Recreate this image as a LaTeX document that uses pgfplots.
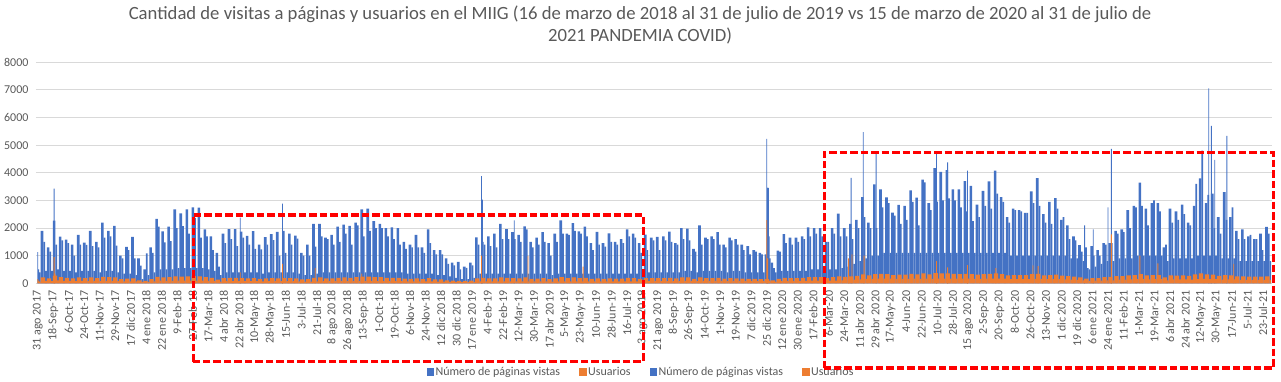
\documentclass[border=0pt]{standalone}
\usepackage{pgfplots}
\pgfplotsset{compat=1.18}
\usepackage{pgfplotstable}
\usepackage{fontspec}
\setmainfont{Carlito}
\definecolor{cblue}{HTML}{4472C4}
\definecolor{corange}{HTML}{ED7D31}
\definecolor{cgrid}{HTML}{D9D9D9}
\definecolor{ctext}{HTML}{595959}

% weekly data: k = week index (Monday = day 4+7k, day 0 = 31 ago 2017)
% a = Mon-Wed page views, b = Thu-Fri page views, w = weekend page views
% u = weekday users, uw = weekend users
\pgfplotstableread{
k a b w u uw
0 1900 1500 450 210 90
1 1300 1150 450 180 80
2 2270 1400 500 280 110
3 1690 1550 450 220 90
4 1580 1450 450 200 90
5 1400 1000 400 180 80
6 1750 1400 450 210 90
7 1470 1390 450 190 80
8 1900 1350 450 210 90
9 1500 1300 400 190 80
10 2200 1650 450 230 90
11 1900 1700 450 220 90
12 2080 1360 400 210 80
13 1000 900 350 150 70
14 1320 1200 350 170 70
15 1680 900 300 180 70
16 900 640 150 110 50
17 500 1080 300 90 50
18 1300 1100 400 150 70
19 2330 2050 500 230 100
20 1880 1480 500 210 90
21 2050 1530 500 220 90
22 2680 2000 550 250 100
23 2530 2070 550 240 100
24 2680 1800 550 250 100
25 2750 2370 550 260 100
26 2740 1650 550 250 100
27 1950 1700 500 220 90
28 1700 1200 450 200 80
29 1100 600 300 130 60
30 1800 1450 400 190 80
31 1960 1600 400 200 80
32 1960 1350 400 200 80
33 1870 1650 400 190 80
34 1720 1400 400 180 80
35 1890 1250 400 190 80
36 1400 1230 350 160 70
37 1670 1400 400 180 80
38 1780 1560 400 190 80
39 1860 1000 400 180 80
40 1900 1100 400 190 80
41 1800 1400 400 190 80
42 1730 1620 350 180 70
43 1100 1000 300 140 60
44 1400 1000 300 150 60
45 2150 1330 350 200 70
46 2150 1700 400 210 80
47 1650 1600 400 180 80
48 1750 1400 400 180 80
49 2050 1500 400 200 80
50 2120 1800 400 210 80
51 2080 1400 400 200 80
52 2200 2100 400 220 80
53 2680 1700 400 240 80
54 2700 1900 400 240 80
55 2250 2000 400 220 80
56 2150 2000 400 220 80
57 2000 1700 400 200 80
58 2020 1600 400 200 80
59 2000 1400 400 200 80
60 1500 1250 350 170 70
61 1400 1300 350 160 70
62 1750 1300 350 180 70
63 1300 1100 350 150 70
64 1950 1450 350 190 70
65 1200 1050 300 140 60
66 1200 1050 300 140 60
67 900 700 250 110 50
68 750 650 200 100 50
69 780 500 150 90 40
70 600 560 150 90 40
71 750 650 200 100 50
72 1660 1400 350 180 70
73 1500 1400 350 200 70
74 1700 1350 350 180 70
75 1800 1300 350 180 70
76 2150 1600 350 210 70
77 1960 1600 350 200 70
78 1850 1600 350 190 70
79 1750 1500 350 180 70
80 2060 1950 350 210 70
81 1500 1300 350 160 70
82 1650 1400 350 170 70
83 1850 1500 350 190 70
84 1450 1000 300 150 60
85 1800 1500 350 180 70
86 2280 1800 350 220 70
87 1800 1750 350 190 70
88 2180 1900 350 210 70
89 1880 1800 350 190 70
90 2050 1700 350 200 70
91 1450 1200 350 160 70
92 1860 1400 350 180 70
93 1450 1330 350 160 70
94 1810 1500 350 180 70
95 1500 1400 350 170 70
96 1600 1450 350 170 70
97 1950 1700 350 200 70
98 1800 1650 350 190 70
99 1450 1100 300 160 60
100 1760 1200 400 190 80
101 1650 1550 400 190 80
102 1680 1200 400 190 80
103 1700 1550 400 190 80
104 1870 1500 400 200 80
105 1450 1400 400 180 80
106 2000 1600 450 210 90
107 1980 1550 450 210 90
108 1250 1150 400 160 80
109 2100 1400 450 210 90
110 1650 1600 450 190 90
111 1700 1600 450 190 90
112 1850 1400 450 200 90
113 1400 1300 400 170 80
114 1650 1550 450 190 90
115 1600 1400 450 180 90
116 1400 1200 400 170 80
117 1350 1050 400 160 80
118 1200 1150 400 160 80
119 1100 1050 400 150 80
120 1050 3450 900 150 100
121 750 550 400 110 60
122 1180 1150 450 160 80
123 1780 1450 450 200 90
124 1650 1400 450 190 90
125 1650 1500 450 190 90
126 1700 1600 450 200 90
127 2020 1700 500 220 100
128 2000 1800 500 220 100
129 2000 1700 500 220 100
130 1500 1500 500 190 100
131 2000 1800 500 220 100
132 2520 1700 550 250 110
133 2000 1700 600 230 120
134 2150 1600 700 250 130
135 2300 2000 800 270 140
136 3120 2400 900 320 160
137 2200 2000 1000 290 160
138 3580 2000 1000 330 170
139 3400 2750 1100 340 170
140 3110 2900 1100 330 170
141 2560 2450 1100 300 160
142 2840 2150 1100 310 160
143 2800 2300 1100 310 160
144 3360 2950 1100 340 170
145 3100 2100 1100 320 160
146 3750 3650 1100 360 170
147 2900 2650 1100 320 160
148 4170 2960 1100 370 170
149 4030 3000 1100 360 170
150 4100 3070 1100 360 170
151 3400 3000 1100 340 170
152 3400 2750 1100 330 170
153 3700 2600 1100 340 170
154 3530 2250 1100 330 160
155 2850 2400 1100 310 160
156 3350 2800 1100 330 170
157 3690 2700 1100 340 170
158 4080 3250 1100 360 170
159 3120 2950 1100 330 170
160 2400 2200 1000 290 150
161 2700 2650 1000 300 150
162 2650 2600 1000 300 150
163 2550 2550 1000 300 150
164 3330 2900 1000 330 160
165 3810 2800 1000 340 160
166 2500 2200 1000 290 150
167 2950 2150 1000 300 150
168 3080 2700 1000 310 150
169 2300 2400 1000 280 140
170 2100 1600 900 260 130
171 1700 1550 900 240 120
172 1380 1150 800 210 110
173 1300 550 500 170 90
174 1350 1000 600 190 100
175 1200 1000 700 190 100
176 1450 1400 800 220 110
177 1450 1450 800 230 110
178 1900 1800 900 260 130
179 1950 1850 900 260 130
180 2650 2000 900 290 140
181 2800 2750 1000 300 150
182 3640 2800 1000 330 150
183 2700 2100 1000 290 140
184 2900 3000 1000 300 150
185 2900 2600 1000 300 150
186 1300 1400 800 210 110
187 2700 2200 900 290 140
188 2600 2300 900 280 140
189 2850 2500 900 290 140
190 2200 2100 900 270 130
191 2800 3600 1000 320 150
192 3800 4800 1000 360 160
193 2900 3200 1000 320 150
194 3250 2000 1000 310 150
195 2400 1800 900 270 130
196 3300 2300 900 300 140
197 2400 2750 900 290 140
198 1900 1600 800 250 120
199 1950 1600 800 250 120
200 1700 1750 800 240 120
201 1600 1600 800 240 120
202 1800 1200 800 240 120
203 2040 1800 800 250 120
}\weeks

% single days (day index, page views)
\pgfplotstableread{
x y
0 1130
1 500
2 400
3 400
19 3430
235 2380
284 2880
515 3880
516 3030
553 2280
846 5230
847 3450
849 1700
944 3820
958 5470
973 4770
1043 4700
1056 4380
1079 4080
1215 2100
1225 1950
1242 2750
1246 4870
1359 7060
1362 5700
1366 4470
1380 5340
}\bluespk

% single days (day index, users)
\pgfplotstableread{
x y
0 150
1 100
2 60
3 60
19 950
20 350
235 400
284 700
322 550
376 350
515 1000
569 990
633 600
846 2290
847 900
941 900
945 1050
959 1000
1043 800
1056 580
1079 660
1112 550
1155 650
1161 620
1246 1770
1279 1000
1300 720
1388 700
}\orspk

\begin{document}
\begin{tikzpicture}
\begin{axis}[
  at={(0bp,0bp)}, anchor=south west,
  scale only axis, width=1236bp, height=221bp,
  xmin=-2, xmax=1432.4, ymin=0, ymax=8000,
  axis line style={draw=none},
  major tick length=0pt,
  ytick={0,1000,...,8000},
  ymajorgrids, grid style={cgrid, line width=1bp},
  xtick={0,18,...,1422},
  xticklabels={31 ago 2017, 18-Sep-17, 6-Oct-17, 24-Oct-17, 11-Nov-17, 29-Nov-17, 17 dic 2017, 4 ene 2018, 22 ene 2018, 9-Feb-18, 27-Feb-18, 17-Mar-18, 4 abr 2018, 22 abr 2018, 10-May-18, 28-May-18, 15-Jun-18, 3-Jul-18, 21-Jul-18, 8 ago 2018, 26 ago 2018, 13-Sep-18, 1-Oct-18, 19-Oct-18, 6-Nov-18, 24-Nov-18, 12 dic 2018, 30 dic 2018, 17 ene 2019, 4-Feb-19, 22-Feb-19, 12-Mar-19, 30-Mar-19, 17 abr 2019, 5-May-19, 23-May-19, 10-Jun-19, 28-Jun-19, 16-Jul-19, 3 ago 2019, 21 ago 2019, 8-Sep-19, 26-Sep-19, 14-Oct-19, 1-Nov-19, 19-Nov-19, 7 dic 2019, 25 dic 2019, 12 ene 2020, 30 ene 2020, 17-Feb-20, 6-Mar-20, 24-Mar-20, 11 abr 2020, 29 abr 2020, 17-May-20, 4-Jun-20, 22-Jun-20, 10-Jul-20, 28-Jul-20, 15 ago 2020, 2-Sep-20, 20-Sep-20, 8-Oct-20, 26-Oct-20, 13-Nov-20, 1 dic 2020, 19 dic 2020, 6 ene 2021, 24 ene 2021, 11-Feb-21, 1-Mar-21, 19-Mar-21, 6 abr 2021, 24 abr 2021, 12-May-21, 30-May-21, 17-Jun-21, 5-Jul-21, 23-Jul-21},
  xticklabel style={rotate=90, anchor=east, font=\fontsize{12bp}{14bp}\selectfont, text=ctext},
  yticklabel style={font=\fontsize{12bp}{14bp}\selectfont, text=ctext},
  xticklabel shift=4bp, yticklabel shift=4bp,
  /pgf/number format/assume math mode=true,
  /pgf/number format/1000 sep={},
  legend columns=4,
  legend style={at={(0.4895,-0.4)}, anchor=center, draw=none, fill=none,
    font=\fontsize{12bp}{14bp}\selectfont, text=ctext,
    /tikz/every even column/.append style={column sep=17bp}},
  legend cell align=left,
]
% page views, weekly blocks
\addplot[ybar, bar shift=0pt, bar width=3, fill=cblue, draw=none, forget plot]
  table[x expr=7*\thisrow{k}+5, y=a] {\weeks};
\addplot[ybar, bar shift=0pt, bar width=2, fill=cblue, draw=none, forget plot]
  table[x expr=7*\thisrow{k}+7.5, y=b] {\weeks};
\addplot[ybar, bar shift=0pt, bar width=2, fill=cblue, draw=none, forget plot]
  table[x expr=7*\thisrow{k}+9.5, y=w] {\weeks};
\addplot[ybar, bar shift=0pt, bar width=1, fill=cblue, draw=none, forget plot]
  table[x=x, y=y] {\bluespk};
% users
\addplot[ybar, bar shift=0pt, bar width=5, fill=corange, draw=none, forget plot]
  table[x expr=7*\thisrow{k}+6, y=u] {\weeks};
\addplot[ybar, bar shift=0pt, bar width=2, fill=corange, draw=none, forget plot]
  table[x expr=7*\thisrow{k}+9.5, y=uw] {\weeks};
\addplot[ybar, bar shift=0pt, bar width=1, fill=corange, draw=none, forget plot]
  table[x=x, y=y] {\orspk};

\addlegendimage{legend image code/.code={\fill[cblue] (0bp,-3.3bp) rectangle (6.6bp,3.3bp);}}
\addlegendentry{Número de páginas vistas}
\addlegendimage{legend image code/.code={\fill[corange] (0bp,-3.3bp) rectangle (6.6bp,3.3bp);}}
\addlegendentry{Usuarios}
\addlegendimage{legend image code/.code={\fill[cblue] (0bp,-3.3bp) rectangle (6.6bp,3.3bp);}}
\addlegendentry{Número de páginas vistas}
\addlegendimage{legend image code/.code={\fill[corange] (0bp,-3.3bp) rectangle (6.6bp,3.3bp);}}
\addlegendentry{Usuarios}
\end{axis}

% title
\node[anchor=base, font=\fontsize{18.67bp}{22bp}\selectfont, text=ctext] at (604bp,263.3bp)
  {Cantidad de visitas a páginas y usuarios en el MIIG (16 de marzo de 2018 al 31 de julio de 2019 vs 15 de marzo de 2020 al 31 de julio de};
\node[anchor=base, font=\fontsize{18.67bp}{22bp}\selectfont, text=ctext] at (604bp,241.3bp)
  {2021 PANDEMIA COVID)};

% highlighted periods
\draw[red, line width=3.3bp, dash pattern=on 7.5bp off 3bp] (157.3bp,-78.2bp) rectangle (607.3bp,68.3bp);
\draw[red, line width=3.3bp, dash pattern=on 7.5bp off 3bp] (788.3bp,-84.7bp) rectangle (1237.3bp,131bp);

\pgfresetboundingbox
\path[use as bounding box] (-36bp,-98.7bp) rectangle (1245bp,283.3bp);
\end{tikzpicture}
\end{document}
